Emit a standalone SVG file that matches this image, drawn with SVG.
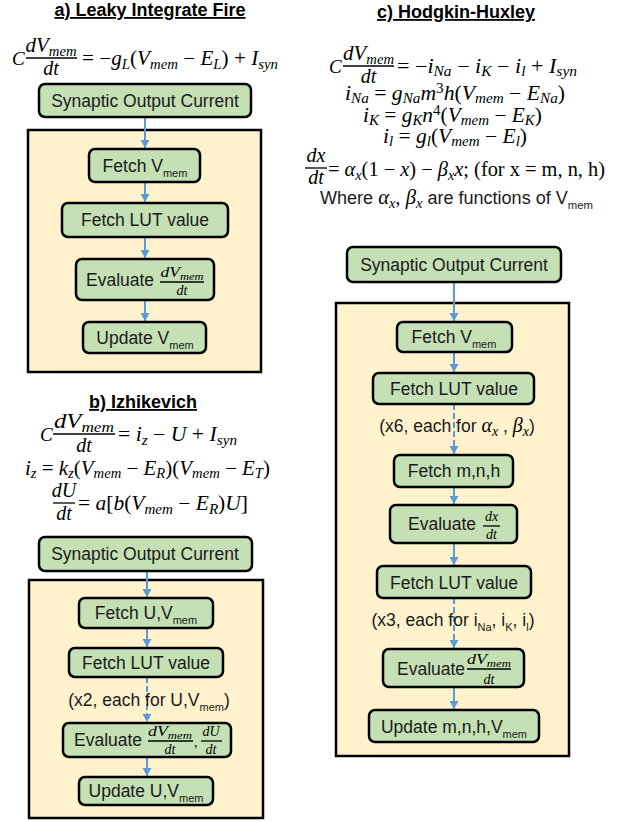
<svg xmlns="http://www.w3.org/2000/svg" width="623" height="821" viewBox="0 0 623 821">
<defs>
<style>
.t{font-family:"Liberation Sans",Arial,sans-serif;font-size:18px;font-weight:bold;text-decoration:underline;fill:#000;text-anchor:middle}
.l{font-family:"Liberation Sans",Arial,sans-serif;font-size:17.5px;fill:#1a1a1a}
.c{text-anchor:middle}
.sb{font-size:11px}
.m{font-family:"Liberation Serif","Times New Roman",serif;font-size:20px;fill:#000}
.cc{font-size:19px}
.f{font-family:"Liberation Serif","Times New Roman",serif;font-size:14px;fill:#000}
.i{font-style:italic}
.s{font-size:14px}
.fs{font-size:10px}
.bar{stroke:#000;stroke-width:1.3}
.box{fill:#C5E0B4;stroke:#000;stroke-width:2.5}
.cont{fill:#FFF2CC;stroke:#000;stroke-width:2.5}
.ar{stroke:#5B9BD5;stroke-width:2;fill:none}
.da{stroke-dasharray:6 3}
</style>
<marker id="ah" markerWidth="10" markerHeight="10" refX="8" refY="4.5" orient="auto" markerUnits="userSpaceOnUse"><path d="M0,0 L8,4.5 L0,9 z" fill="#5B9BD5"/></marker>
</defs>

<!-- ===== a) Leaky Integrate Fire ===== -->
<g id="title-a"><text class="t" x="150" y="16">a) Leaky Integrate Fire</text></g>
<g id="eq-a">
<text class="m i cc" x="12" y="65">C</text>
<text class="m c" x="51" y="52" textLength="51" lengthAdjust="spacingAndGlyphs"><tspan class="i">dV</tspan><tspan class="i s" dy="4">mem</tspan></text>
<line class="bar" x1="26" y1="58" x2="77" y2="58"/>
<text class="m i c" x="51" y="75">dt</text>
<text class="m" x="82" y="65" textLength="196" lengthAdjust="spacingAndGlyphs">= −<tspan class="i">g</tspan><tspan class="i s" dy="4">L</tspan><tspan dy="-4">(</tspan><tspan class="i">V</tspan><tspan class="i s" dy="4">mem</tspan><tspan dy="-4"> − </tspan><tspan class="i">E</tspan><tspan class="i s" dy="4">L</tspan><tspan dy="-4">) + </tspan><tspan class="i">I</tspan><tspan class="i s" dy="4">syn</tspan></text>
</g>
<g id="a-container"><rect class="cont" x="28" y="130" width="233" height="242"/></g>
<g id="a-connectors">
<line class="ar" x1="145" y1="117" x2="145" y2="148" marker-end="url(#ah)"/>
<line class="ar" x1="145" y1="182" x2="145" y2="202" marker-end="url(#ah)"/>
<line class="ar" x1="145" y1="237" x2="145" y2="258" marker-end="url(#ah)"/>
<line class="ar" x1="145" y1="300" x2="145" y2="321" marker-end="url(#ah)"/>
</g>
<g id="a-syn"><rect class="box" x="39" y="84" width="212" height="33" rx="6"/><text class="l c" x="145" y="107">Synaptic Output Current</text></g>
<g id="a-fetchv"><rect class="box" x="89" y="149" width="111" height="33" rx="6"/><text class="l c" x="145" y="172">Fetch V<tspan class="sb" dy="5">mem</tspan></text></g>
<g id="a-lut"><rect class="box" x="62" y="203" width="166" height="34" rx="6"/><text class="l c" x="145" y="226">Fetch LUT value</text></g>
<g id="a-eval"><rect class="box" x="76" y="259" width="138" height="41" rx="6"/><text class="l" x="86" y="286">Evaluate</text>
<text class="f c" x="182" y="277" textLength="43" lengthAdjust="spacingAndGlyphs"><tspan class="i">dV</tspan><tspan class="i fs" dy="3">mem</tspan></text><line class="bar" x1="160" y1="282" x2="204" y2="282"/><text class="f i c" x="182" y="295">dt</text></g>
<g id="a-update"><rect class="box" x="83" y="322" width="123" height="31" rx="6"/><text class="l c" x="145" y="344">Update V<tspan class="sb" dy="5">mem</tspan></text></g>

<!-- ===== b) Izhikevich ===== -->
<g id="title-b"><text class="t" x="143" y="408">b) Izhikevich</text></g>
<g id="eq-b">
<text class="m i cc" x="40" y="441">C</text>
<text class="m c" x="84" y="428" textLength="60" lengthAdjust="spacingAndGlyphs"><tspan class="i">dV</tspan><tspan class="i s" dy="4">mem</tspan></text>
<line class="bar" x1="53" y1="434" x2="115" y2="434"/>
<text class="m i c" x="84" y="452">dt</text>
<text class="m" x="118" y="441" textLength="119" lengthAdjust="spacingAndGlyphs">= <tspan class="i">i</tspan><tspan class="i s" dy="4">z</tspan><tspan dy="-4"> − </tspan><tspan class="i">U</tspan> + <tspan class="i">I</tspan><tspan class="i s" dy="4">syn</tspan></text>
<text class="m" x="25" y="475" textLength="245" lengthAdjust="spacingAndGlyphs"><tspan class="i">i</tspan><tspan class="i s" dy="3">z</tspan><tspan dy="-3"> = </tspan><tspan class="i">k</tspan><tspan class="i s" dy="3">z</tspan><tspan dy="-3">(</tspan><tspan class="i">V</tspan><tspan class="i s" dy="3">mem</tspan><tspan dy="-3"> − </tspan><tspan class="i">E</tspan><tspan class="i s" dy="3">R</tspan><tspan dy="-3">)(</tspan><tspan class="i">V</tspan><tspan class="i s" dy="3">mem</tspan><tspan dy="-3"> − </tspan><tspan class="i">E</tspan><tspan class="i s" dy="3">T</tspan><tspan dy="-3">)</tspan></text>
<text class="m i c" x="64" y="497">dU</text>
<line class="bar" x1="53" y1="503" x2="75" y2="503"/>
<text class="m i c" x="64" y="520">dt</text>
<text class="m" x="78" y="510" textLength="170" lengthAdjust="spacingAndGlyphs">= <tspan class="i">a</tspan>[<tspan class="i">b</tspan>(<tspan class="i">V</tspan><tspan class="i s" dy="4">mem</tspan><tspan dy="-4"> − </tspan><tspan class="i">E</tspan><tspan class="i s" dy="4">R</tspan><tspan dy="-4">)</tspan><tspan class="i">U</tspan>]</text>
</g>
<g id="b-container"><rect class="cont" x="29" y="580" width="234" height="238"/></g>
<g id="b-connectors">
<line class="ar" x1="147" y1="571" x2="147" y2="597" marker-end="url(#ah)"/>
<line class="ar" x1="147" y1="628" x2="147" y2="647" marker-end="url(#ah)"/>
<line class="ar da" x1="147" y1="677" x2="147" y2="722" marker-end="url(#ah)"/>
<line class="ar" x1="147" y1="757" x2="147" y2="776" marker-end="url(#ah)"/>
</g>
<g id="b-syn"><rect class="box" x="39" y="537" width="213" height="34" rx="6"/><text class="l c" x="145" y="560">Synaptic Output Current</text></g>
<g id="b-fetch"><rect class="box" x="79" y="598" width="134" height="30" rx="6"/><text class="l c" x="146" y="619">Fetch U,V<tspan class="sb" dy="5">mem</tspan></text></g>
<g id="b-lut"><rect class="box" x="69" y="648" width="154" height="29" rx="6"/><text class="l c" x="146" y="669">Fetch LUT value</text></g>
<g id="b-note"><text class="l c" x="149" y="706">(x2, each for U,V<tspan class="sb" dy="5">mem</tspan><tspan dy="-5">)</tspan></text></g>
<g id="b-eval"><rect class="box" x="63" y="723" width="168" height="34" rx="6"/><text class="l" x="74" y="746">Evaluate</text>
<text class="f c" x="170" y="736" textLength="44" lengthAdjust="spacingAndGlyphs"><tspan class="i">dV</tspan><tspan class="i fs" dy="3">mem</tspan></text><line class="bar" x1="148" y1="741" x2="193" y2="741"/><text class="f i c" x="170" y="754">dt</text>
<text class="f" x="194" y="747">,</text>
<text class="f i c" x="211" y="736">dU</text><line class="bar" x1="201" y1="741" x2="222" y2="741"/><text class="f i c" x="211" y="754">dt</text></g>
<g id="b-update"><rect class="box" x="79" y="777" width="134" height="28" rx="6"/><text class="l c" x="146" y="797">Update U,V<tspan class="sb" dy="5">mem</tspan></text></g>

<!-- ===== c) Hodgkin-Huxley ===== -->
<g id="title-c"><text class="t" x="456" y="18">c) Hodgkin-Huxley</text></g>
<g id="eq-c">
<text class="m i cc" x="329" y="73">C</text>
<text class="m c" x="368.5" y="60" textLength="51" lengthAdjust="spacingAndGlyphs"><tspan class="i">dV</tspan><tspan class="i s" dy="4">mem</tspan></text>
<line class="bar" x1="343" y1="66" x2="394" y2="66"/>
<text class="m i c" x="368.5" y="83">dt</text>
<text class="m" x="397" y="73" textLength="180" lengthAdjust="spacingAndGlyphs">= −<tspan class="i">i</tspan><tspan class="i s" dy="3">Na</tspan><tspan dy="-3"> − </tspan><tspan class="i">i</tspan><tspan class="i s" dy="3">K</tspan><tspan dy="-3"> − </tspan><tspan class="i">i</tspan><tspan class="i s" dy="3">l</tspan><tspan dy="-3"> + </tspan><tspan class="i">I</tspan><tspan class="i s" dy="3">syn</tspan></text>
<text class="m" x="345" y="100" textLength="220" lengthAdjust="spacingAndGlyphs"><tspan class="i">i</tspan><tspan class="i s" dy="3">Na</tspan><tspan dy="-3"> = </tspan><tspan class="i">g</tspan><tspan class="i s" dy="3">Na</tspan><tspan class="i" dy="-3">m</tspan><tspan class="s" dy="-7">3</tspan><tspan class="i" dy="7">h</tspan>(<tspan class="i">V</tspan><tspan class="i s" dy="3">mem</tspan><tspan dy="-3"> − </tspan><tspan class="i">E</tspan><tspan class="i s" dy="3">Na</tspan><tspan dy="-3">)</tspan></text>
<text class="m" x="363" y="122" textLength="179" lengthAdjust="spacingAndGlyphs"><tspan class="i">i</tspan><tspan class="i s" dy="3">K</tspan><tspan dy="-3"> = </tspan><tspan class="i">g</tspan><tspan class="i s" dy="3">K</tspan><tspan class="i" dy="-3">n</tspan><tspan class="s" dy="-7">4</tspan><tspan dy="7">(</tspan><tspan class="i">V</tspan><tspan class="i s" dy="3">mem</tspan><tspan dy="-3"> − </tspan><tspan class="i">E</tspan><tspan class="i s" dy="3">K</tspan><tspan dy="-3">)</tspan></text>
<text class="m" x="383" y="143" textLength="144" lengthAdjust="spacingAndGlyphs"><tspan class="i">i</tspan><tspan class="i s" dy="3">l</tspan><tspan dy="-3"> = </tspan><tspan class="i">g</tspan><tspan class="i s" dy="3">l</tspan><tspan dy="-3">(</tspan><tspan class="i">V</tspan><tspan class="i s" dy="3">mem</tspan><tspan dy="-3"> − </tspan><tspan class="i">E</tspan><tspan class="i s" dy="3">l</tspan><tspan dy="-3">)</tspan></text>
<text class="m i c" x="316" y="162">dx</text>
<line class="bar" x1="305" y1="168" x2="327" y2="168"/>
<text class="m i c" x="316" y="184">dt</text>
<text class="m" x="328" y="176" textLength="277" lengthAdjust="spacingAndGlyphs">= <tspan class="i">α</tspan><tspan class="i s" dy="4">x</tspan><tspan dy="-4">(1 − </tspan><tspan class="i">x</tspan>) − <tspan class="i">β</tspan><tspan class="i s" dy="4">x</tspan><tspan class="i" dy="-4">x</tspan>; (for x = m, n, h)</text>
<text class="l" x="320" y="204" textLength="273" lengthAdjust="spacingAndGlyphs">Where <tspan class="m i">α</tspan><tspan class="m i s" dy="4">x</tspan><tspan class="m" dy="-4">, </tspan><tspan class="m i">β</tspan><tspan class="m i s" dy="4">x</tspan><tspan dy="-4"> are functions of V</tspan><tspan class="sb" dy="5">mem</tspan></text>
</g>
<g id="c-container"><rect class="cont" x="336" y="303" width="233" height="453"/></g>
<g id="c-connectors">
<line class="ar" x1="454" y1="282" x2="454" y2="321" marker-end="url(#ah)"/>
<line class="ar" x1="454" y1="352" x2="454" y2="372" marker-end="url(#ah)"/>
<line class="ar da" x1="454" y1="404" x2="454" y2="454" marker-end="url(#ah)"/>
<line class="ar" x1="454" y1="487" x2="454" y2="504" marker-end="url(#ah)"/>
<line class="ar" x1="454" y1="543" x2="454" y2="565" marker-end="url(#ah)"/>
<line class="ar da" x1="454" y1="598" x2="454" y2="648" marker-end="url(#ah)"/>
<line class="ar" x1="454" y1="687" x2="454" y2="709" marker-end="url(#ah)"/>
</g>
<g id="c-syn"><rect class="box" x="347" y="247" width="214" height="35" rx="6"/><text class="l c" x="454" y="271">Synaptic Output Current</text></g>
<g id="c-fetchv"><rect class="box" x="397" y="322" width="115" height="30" rx="6"/><text class="l c" x="454" y="343">Fetch V<tspan class="sb" dy="5">mem</tspan></text></g>
<g id="c-lut1"><rect class="box" x="373" y="373" width="161" height="31" rx="6"/><text class="l c" x="454" y="395">Fetch LUT value</text></g>
<g id="c-note1"><text class="l c" x="457" y="432">(x6, each for <tspan class="m i">α</tspan><tspan class="m i s" dy="4">x</tspan><tspan dy="-4"> , </tspan><tspan class="m i">β</tspan><tspan class="m i s" dy="4">x</tspan><tspan dy="-4">)</tspan></text></g>
<g id="c-fetchmnh"><rect class="box" x="394" y="455" width="119" height="32" rx="6"/><text class="l c" x="454" y="477">Fetch m,n,h</text></g>
<g id="c-evaldx"><rect class="box" x="390" y="505" width="127" height="38" rx="6"/><text class="l" x="408" y="530">Evaluate</text>
<text class="f i c" x="491.5" y="521">dx</text><line class="bar" x1="483" y1="526" x2="500" y2="526"/><text class="f i c" x="491.5" y="539">dt</text></g>
<g id="c-lut2"><rect class="box" x="377" y="566" width="154" height="32" rx="6"/><text class="l c" x="454" y="589">Fetch LUT value</text></g>
<g id="c-note2"><text class="l c" x="453" y="626">(x3, each for i<tspan class="sb" dy="5">Na</tspan><tspan dy="-5">, i</tspan><tspan class="sb" dy="5">K</tspan><tspan dy="-5">, i</tspan><tspan class="sb" dy="5">l</tspan><tspan dy="-5">)</tspan></text></g>
<g id="c-evaldv"><rect class="box" x="383" y="649" width="141" height="38" rx="6"/><text class="l" x="397" y="675">Evaluate</text>
<text class="f c" x="489" y="664" textLength="44" lengthAdjust="spacingAndGlyphs"><tspan class="i">dV</tspan><tspan class="i fs" dy="3">mem</tspan></text><line class="bar" x1="467" y1="669" x2="511" y2="669"/><text class="f i c" x="489" y="684">dt</text></g>
<g id="c-update"><rect class="box" x="369" y="710" width="170" height="32" rx="6"/><text class="l c" x="454" y="733">Update m,n,h,V<tspan class="sb" dy="5">mem</tspan></text></g>
</svg>
